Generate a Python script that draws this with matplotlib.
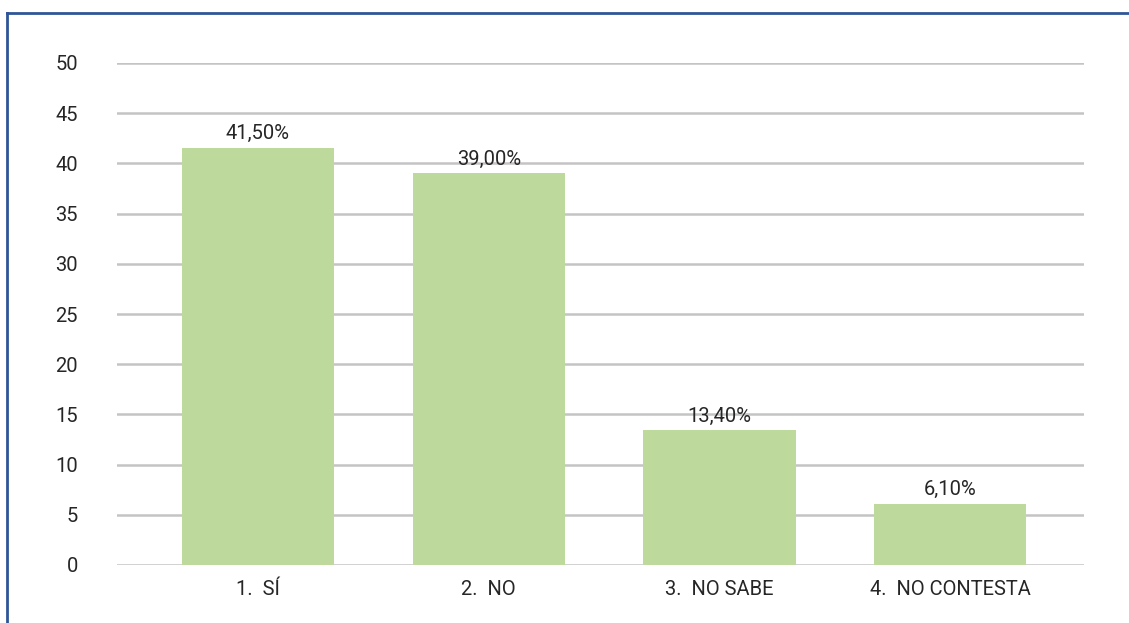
import matplotlib.pyplot as plt
from matplotlib.lines import Line2D

categories = ["1.  SÍ", "2.  NO", "3.  NO SABE", "4.  NO CONTESTA"]
values = [41.5, 39.0, 13.4, 6.1]
labels = ["41,50%", "39,00%", "13,40%", "6,10%"]
yticks = [0, 5, 10, 15, 20, 25, 30, 35, 40, 45, 50]

plt.rcParams['font.family'] = ['Roboto', 'DejaVu Sans']
text_color = '#262626'

fig = plt.figure(figsize=(11.29, 6.23), dpi=100)
ax = fig.add_axes([117 / 1129, 1 - 565 / 623, (1084 - 117) / 1129, (565 - 63) / 623])

x = list(range(len(categories)))
ax.bar(x, values, width=0.66, color='#BDD99C', zorder=3)
for xi, v, lab in zip(x, values, labels):
    ax.text(xi, v + 0.5, lab, ha='center', va='bottom', fontsize=14.5, color=text_color)

ax.set_ylim(0, 50)
ax.set_xlim(-0.611, 3.58)
ax.set_yticks(yticks)
ax.set_xticks(x)
ax.set_xticklabels(categories)
ax.tick_params(axis='both', length=0, labelsize=14.5, labelcolor=text_color)
ax.tick_params(axis='y', pad=28)
ax.tick_params(axis='x', pad=11)
ax.grid(axis='y', color='#C4C4C4', linewidth=1.8, zorder=0)
for s in ax.spines.values():
    s.set_visible(False)

# frame lines along the top and left edge of the figure
fig.add_artist(Line2D([7 / 1129, 1], [1 - 13 / 623, 1 - 13 / 623], color='#2F5597', linewidth=2, transform=fig.transFigure))
fig.add_artist(Line2D([7 / 1129, 7 / 1129], [0, 1 - 13 / 623], color='#2F5597', linewidth=2, transform=fig.transFigure))

fig.savefig('out.png', dpi=100)
